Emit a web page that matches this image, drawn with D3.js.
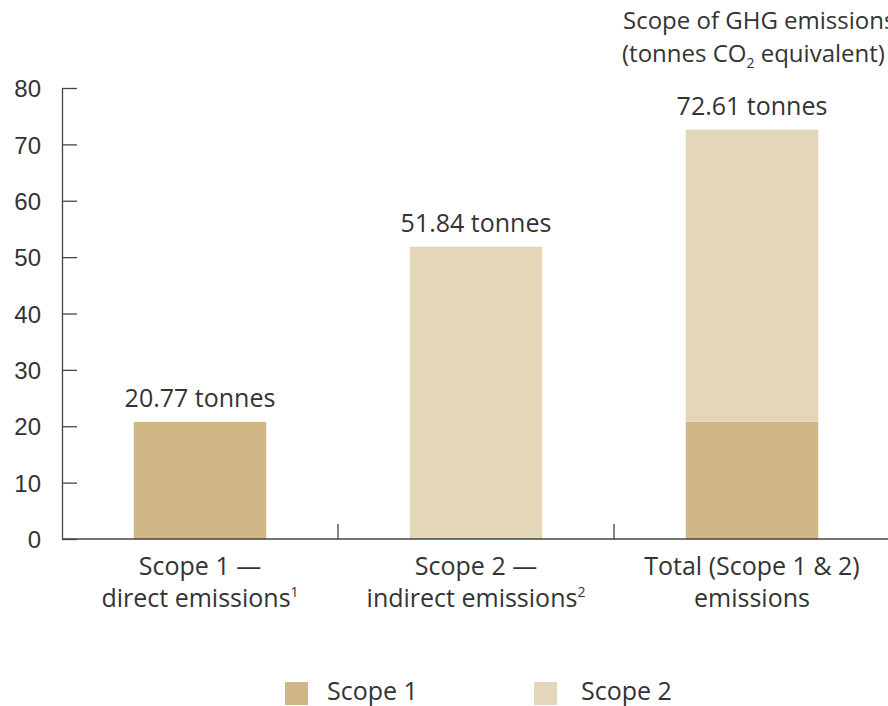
<!DOCTYPE html>
<html>
<head>
<meta charset="utf-8">
<script src="https://cdn.jsdelivr.net/npm/d3@7"></script>
<style>
  body { margin: 0; background: #fff; }
  svg { display: block; font-family: "Open Sans", "Noto Sans", sans-serif; }
  text { fill: #333; }
</style>
</head>
<body>
<div id="chart"></div>
<script>
const width = 888, height = 706;
const margin = {top: 88, right: -2, bottom: 167, left: 62};

// data
const categories = ["scope1", "scope2", "total"];
const catLine1 = ["Scope 1 —", "Scope 2 —", "Total (Scope 1 & 2)"];
const catLine2 = ["direct emissions", "indirect emissions", "emissions"];
const catNote = ["1", "2", ""];
const scope1 = [20.77, 0, 20.77];
const scope2 = [0, 51.84, 51.84];
const valueLabels = ["20.77 tonnes", "51.84 tonnes", "72.61 tonnes"];
const series = ["Scope 1", "Scope 2"];
const colors = ["#cfb785", "#e4d6b9"];
const yTicks = [0, 10, 20, 30, 40, 50, 60, 70, 80];

const rows = categories.map((c, i) => ({cat: c, "Scope 1": scope1[i], "Scope 2": scope2[i]}));
const stacked = d3.stack().keys(series)(rows);

const svg = d3.select("#chart").append("svg")
  .attr("width", width)
  .attr("height", height);

const x = d3.scaleBand().domain(categories)
  .range([margin.left, width - margin.right])
  .paddingInner(0.52).paddingOuter(0.26);
const y = d3.scaleLinear().domain([0, 80]).range([height - margin.bottom, margin.top]);
const color = d3.scaleOrdinal().domain(series).range(colors);

// bars
svg.append("g").selectAll("g")
  .data(stacked)
  .join("g")
  .attr("fill", d => color(d.key))
  .selectAll("rect")
  .data(d => d)
  .join("rect")
  .attr("x", d => x(d.data.cat))
  .attr("y", d => y(d[1]))
  .attr("width", x.bandwidth())
  .attr("height", d => y(d[0]) - y(d[1]));

// y axis (ticks pointing inward)
const yAxis = svg.append("g")
  .attr("transform", `translate(${margin.left},0)`)
  .call(d3.axisRight(y).tickValues(yTicks).tickSize(15).tickSizeOuter(0).tickFormat(d3.format("d")));
yAxis.select(".domain").attr("stroke", "#444").attr("stroke-width", 1.3);
yAxis.selectAll(".tick line").attr("stroke", "#444").attr("stroke-width", 1.3);
yAxis.selectAll(".tick text")
  .attr("x", -21).attr("text-anchor", "end").attr("dy", "0.36em")
  .style("font-size", "24px").attr("fill", "#333");

// x axis
const step = x.step();
svg.append("line")
  .attr("x1", margin.left).attr("x2", width)
  .attr("y1", y(0)).attr("y2", y(0))
  .attr("stroke", "#444").attr("stroke-width", 1.3);
svg.append("g").selectAll("line")
  .data(categories.slice(0, -1))
  .join("line")
  .attr("x1", d => x(d) + x.bandwidth() + step * x.paddingInner() / 2)
  .attr("x2", d => x(d) + x.bandwidth() + step * x.paddingInner() / 2)
  .attr("y1", y(0)).attr("y2", y(0) - 15)
  .attr("stroke", "#444").attr("stroke-width", 1.3);

// category labels
const catText = svg.append("g").selectAll("text")
  .data(categories)
  .join("text")
  .attr("text-anchor", "middle")
  .style("font-size", "25px");
catText.append("tspan")
  .attr("x", d => x(d) + x.bandwidth() / 2)
  .attr("y", y(0) + 36)
  .text((d, i) => catLine1[i]);
catText.append("tspan")
  .attr("x", d => x(d) + x.bandwidth() / 2)
  .attr("y", y(0) + 68)
  .text((d, i) => catLine2[i]);
catText.append("tspan")
  .attr("dy", -10)
  .style("font-size", "14px")
  .text((d, i) => catNote[i]);

// value labels
svg.append("g").selectAll("text")
  .data(categories)
  .join("text")
  .attr("x", d => x(d) + x.bandwidth() / 2)
  .attr("y", (d, i) => y(scope1[i] + scope2[i]) - 15)
  .attr("text-anchor", "middle")
  .style("font-size", "25px")
  .text((d, i) => valueLabels[i]);

// title
const title = svg.append("text").style("font-size", "24px");
title.append("tspan").attr("x", 623).attr("y", 29).text("Scope of GHG emissions");
title.append("tspan").attr("x", 622).attr("y", 62).text("(tonnes CO");
title.append("tspan").attr("dy", 6).style("font-size", "14px").text("2");
title.append("tspan").attr("dy", -6).text(" equivalent)");

// legend
const legendX = [285, 534];
const legend = svg.append("g").selectAll("g")
  .data(series)
  .join("g")
  .attr("transform", (d, i) => `translate(${legendX[i]},682)`);
legend.append("rect")
  .attr("width", 23).attr("height", 23)
  .attr("fill", d => color(d));
legend.append("text")
  .attr("x", (d, i) => i === 0 ? 42 : 47)
  .attr("y", 18)
  .style("font-size", "25px")
  .text(d => d);
</script>
</body>
</html>
